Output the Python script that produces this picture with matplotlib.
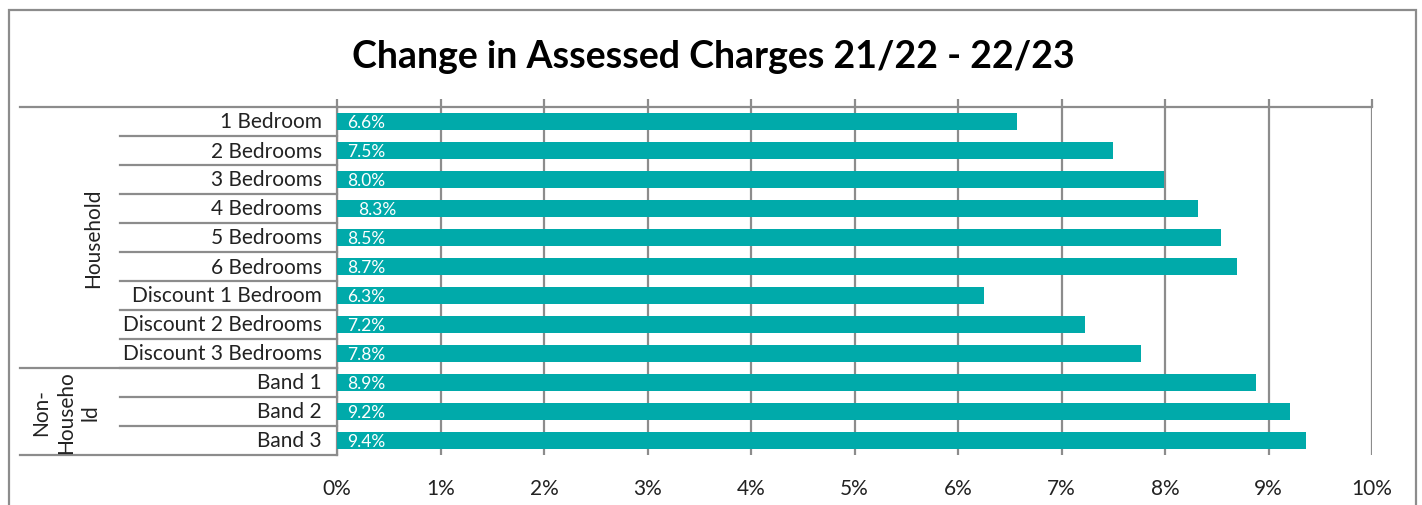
import matplotlib
matplotlib.use("Agg")
import matplotlib.pyplot as plt
import matplotlib.patches as ptc
import matplotlib.transforms as mtrans
from matplotlib.ticker import FuncFormatter

# --- data ---
categories = ["1 Bedroom", "2 Bedrooms", "3 Bedrooms", "4 Bedrooms", "5 Bedrooms",
              "6 Bedrooms", "Discount 1 Bedroom", "Discount 2 Bedrooms",
              "Discount 3 Bedrooms", "Band 1", "Band 2", "Band 3"]
values = [6.57, 7.50, 7.99, 8.32, 8.54, 8.70, 6.25, 7.23, 7.77, 8.88, 9.21, 9.36]
labels = ["6.6%", "7.5%", "8.0%", "8.3%", "8.5%", "8.7%", "6.3%", "7.2%",
          "7.8%", "8.9%", "9.2%", "9.4%"]
groups = ["Household", "Non-\nHouseho\nld"]
group_sizes = [9, 3]
title = "Change in Assessed Charges 21/22 - 22/23"

bar_color = "#00AAAA"
line_color = "#8C8C8C"
plt.rcParams['font.family'] = ['Lato', 'DejaVu Sans']

W, H = 1422, 506
fig = plt.figure(figsize=(W / 100, H / 100), dpi=100)

# plot area in pixels: x 337..1372, y 108..456
px_l, px_r, px_t, px_b = 337, 1372, 108, 456
ax = fig.add_axes([px_l / W, 1 - px_b / H, (px_r - px_l) / W, (px_b - px_t) / H])

y = list(range(len(categories)))
ax.barh(y, values, height=0.58, color=bar_color, zorder=3)
ax.set_ylim(len(categories) - 0.5, -0.5)
ax.set_xlim(0, 10)
ax.set_xticks(range(0, 11))
ax.xaxis.set_major_formatter(FuncFormatter(lambda v, p: f"{int(v)}%"))
ax.set_yticks([])

ax.grid(axis='x', color=line_color, linewidth=1.6, zorder=1)
for s in ["right", "bottom"]:
    ax.spines[s].set_visible(False)
for s in ["top", "left"]:
    ax.spines[s].set_color(line_color)
    ax.spines[s].set_linewidth(1.6)

ax.tick_params(axis='x', top=True, bottom=False, labeltop=False, labelbottom=True,
               direction='out', length=5.8, width=1.6, color=line_color,
               pad=11, labelsize=15, labelcolor="#222222")

# value labels inside bars
for i, (v, lab) in enumerate(zip(values, labels)):
    off = 0.2 if lab == "8.3%" else 0.1
    ax.text(off, i + 0.03, lab, color="white", fontsize=12.5, va="center", ha="left", zorder=4)

# multi-level category axis drawn at left
trans = mtrans.blended_transform_factory(ax.transAxes, ax.transData)
x_inner = (120 - px_l) / (px_r - px_l)
x_outer = (20 - px_l) / (px_r - px_l)
for i in range(len(categories)):
    ax.text(-0.0145, i, categories[i], transform=trans, ha="right", va="center",
            fontsize=15, color="#222222")
    if i > 0:
        ax.plot([x_inner, 0], [i - 0.5, i - 0.5], transform=trans, color=line_color,
                lw=1.6, clip_on=False)

start = -0.5
x_grp = [(93 - px_l) / (px_r - px_l), (66 - px_l) / (px_r - px_l)]
ax.plot([x_outer, 0], [start, start], transform=trans, color=line_color, lw=1.6, clip_on=False)
for g, n, xg in zip(groups, group_sizes, x_grp):
    end = start + n
    ax.plot([x_outer, 0], [end, end], transform=trans, color=line_color, lw=1.6, clip_on=False)
    ax.text(xg, (start + end) / 2, g, transform=trans, rotation=90, ha="center",
            va="center", fontsize=15, color="#222222", linespacing=1.3, multialignment="center")
    start = end

fig.text(713 / W, 1 - 57 / H, title, ha="center", va="center", fontsize=27,
         fontweight="bold", color="black")

# chart border
fig.patches.append(ptc.Rectangle((9 / W, -0.05), (1416 - 9) / W, 1.05 - 11 / H,
                                 transform=fig.transFigure, fill=False,
                                 edgecolor=line_color, linewidth=1.6))

fig.savefig("out.png", dpi=100)
